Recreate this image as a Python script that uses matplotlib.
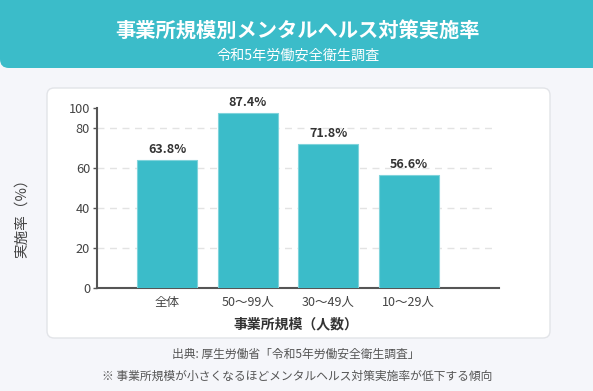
import matplotlib
matplotlib.use("Agg")
import matplotlib.pyplot as plt
from matplotlib.patches import FancyBboxPatch

plt.rcParams['font.family'] = ['Noto Sans CJK JP', 'DejaVu Sans']

# data
categories = ['全体', '50〜99人', '30〜49人', '10〜29人']
rates = [63.8, 87.4, 71.8, 56.6]
ytick_vals = [0, 20, 40, 60, 80, 90]
ytick_labels = ['0', '20', '40', '60', '80', '100']

title = '事業所規模別メンタルヘルス対策実施率'
subtitle = '令和5年労働安全衛生調査'
xlabel = '事業所規模（人数）'
ylabel = '実施率（%）'
source = '出典: 厚生労働省「令和5年労働安全衛生調査」'
note = '※ 事業所規模が小さくなるほどメンタルヘルス対策実施率が低下する傾向'

W, H = 593, 391
teal = '#3bbcc9'

fig = plt.figure(figsize=(W / 100, H / 100), dpi=100)
fig.patch.set_facecolor('#f5f6fa')

def px(x, y):
    # pixel (from top-left) -> figure fraction
    return x / W, 1 - y / H

# header band
hdr = FancyBboxPatch((0, 323 / H), 1.02, 0.2, boxstyle='round,pad=0,rounding_size=0.015',
                     transform=fig.transFigure, facecolor=teal, edgecolor='none',
                     mutation_aspect=W / H, zorder=-2)
fig.patches.append(hdr)
fig.text(*px(298, 31), title, color='white', fontsize=14.6, fontweight='bold',
         ha='center', va='center')
fig.text(*px(298, 55), subtitle, color='white', fontsize=10.2, ha='center', va='center')

# card
card = FancyBboxPatch((47 / W, 53 / H), 503 / W, 250 / H,
                      boxstyle='round,pad=0,rounding_size=0.012',
                      transform=fig.transFigure, facecolor='white', edgecolor='#e2e4e8',
                      linewidth=1, mutation_aspect=W / H, zorder=-1)
fig.patches.append(card)

ax = fig.add_axes([97 / W, 103 / H, 402 / W, 180 / H])
ax.set_zorder(2)
ax.set_facecolor('none')
xs = list(range(len(categories)))
bars = ax.bar(xs, rates, width=0.745, color=teal, edgecolor='#7fd3db', linewidth=0.8, zorder=3)
for b, v in zip(bars, rates):
    ax.text(b.get_x() + b.get_width() / 2, v + 2, f'{v}%', ha='center', va='bottom',
            fontsize=9, fontweight='bold', color='#333333', zorder=4)

ax.set_xlim(-0.87, 4.12)
ax.set_ylim(0, 90)
ax.set_yticks(ytick_vals)
ax.set_yticklabels(ytick_labels)
ax.set_xticks(xs)
ax.set_xticklabels(categories)
ax.tick_params(axis='y', length=3, width=1, color='#555555', labelsize=9.2,
               labelcolor='#444444', pad=2)
ax.tick_params(axis='x', length=0, labelsize=9, labelcolor='#444444', pad=6)
for g in [20, 40, 60, 80]:
    ax.axhline(g, color='#e3e3e3', linestyle=(0, (5, 4)), linewidth=1, zorder=1,
               xmax=0.99)
for s in ['top', 'right']:
    ax.spines[s].set_visible(False)
for s in ['left', 'bottom']:
    ax.spines[s].set_color('#555555')
    ax.spines[s].set_linewidth(1.5)

fig.text(*px(296, 324), xlabel, fontsize=10, fontweight='bold', color='#333333',
         ha='center', va='center')
fig.text(*px(22, 215), ylabel, fontsize=10.5, color='#444444', rotation=90,
         ha='center', va='center')

fig.text(*px(296, 354), source, fontsize=8.5, color='#555555', ha='center', va='center')
fig.text(*px(297, 376), note, fontsize=8.5, color='#555555', ha='center', va='center')

fig.savefig('out.png', dpi=100, facecolor=fig.get_facecolor())
